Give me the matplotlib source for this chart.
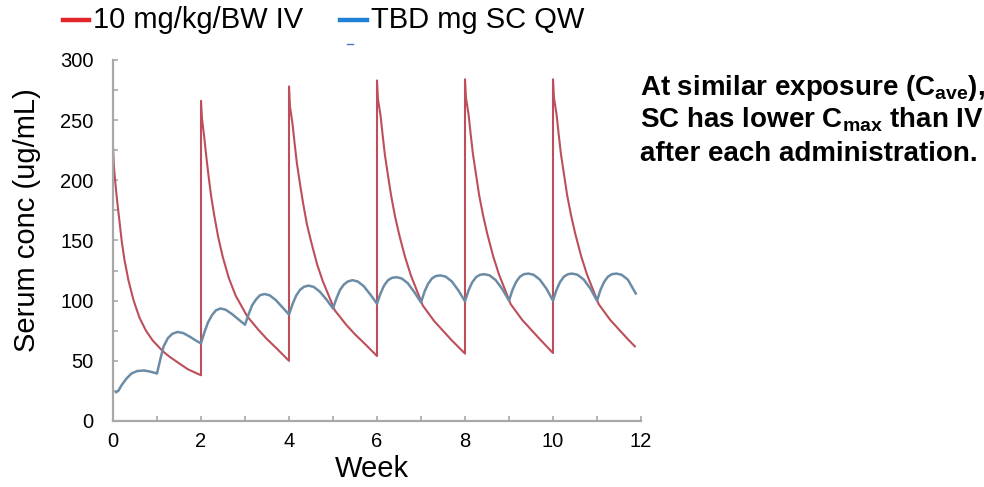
import matplotlib
matplotlib.use("Agg")
import matplotlib.pyplot as plt
from matplotlib.lines import Line2D
from matplotlib.ticker import MultipleLocator

plt.rcParams['font.family'] = ['Liberation Sans', 'DejaVu Sans']
plt.rcParams['mathtext.fontset'] = 'custom'
plt.rcParams['mathtext.rm'] = 'Liberation Sans:bold'
plt.rcParams['mathtext.bf'] = 'Liberation Sans:bold'
plt.rcParams['mathtext.it'] = 'Liberation Sans:bold'

# ---- data ----
series_names = ["10 mg/kg/BW IV", "TBD mg SC QW"]

iv_weeks = [
    0.00, 0.02, 0.05, 0.10, 0.15, 0.20, 0.26, 0.35, 0.47, 0.60, 0.75, 0.90, 1.13, 1.30, 1.50, 1.70, 2.00,
    2.00, 2.02, 2.07, 2.12, 2.17, 2.23, 2.30, 2.39, 2.49, 2.63, 2.79, 3.05, 3.30, 3.50, 3.70, 4.00,
    4.00, 4.02, 4.08, 4.13, 4.18, 4.25, 4.32, 4.41, 4.51, 4.64, 4.77, 5.04, 5.30, 5.50, 5.70, 6.00,
    6.00, 6.02, 6.08, 6.13, 6.18, 6.25, 6.32, 6.41, 6.51, 6.64, 6.77, 7.04, 7.30, 7.50, 7.70, 8.00,
    8.00, 8.02, 8.08, 8.13, 8.18, 8.25, 8.32, 8.41, 8.51, 8.64, 8.77, 9.04, 9.30, 9.50, 9.70, 10.00,
    10.00, 10.02, 10.08, 10.13, 10.18, 10.25, 10.32, 10.41, 10.51, 10.64, 10.77, 11.04, 11.30, 11.50, 11.70, 11.86,
]
iv_conc = [
    228, 212, 199, 181, 165, 149, 134, 117, 100, 86, 75, 67, 58, 53, 48, 43, 38,
    266, 252, 237, 220, 204, 187, 171, 153, 137, 119, 104, 87, 76, 68, 61, 50,
    278, 262, 247, 230, 214, 197, 181, 163, 148, 130, 116, 92, 80, 72, 65, 54,
    283, 268, 254, 237, 221, 204, 187.5, 170, 154, 136, 121, 96, 83, 75, 67, 56,
    284, 269, 255, 238, 222, 205, 188, 171, 155, 137, 122, 97, 84, 76, 68, 56.5,
    284, 269, 255, 238, 222, 205, 188, 171, 155, 137, 122, 97, 84, 76, 68, 62,
]

sc_weeks = [
    0.07, 0.12, 0.20, 0.30, 0.42, 0.55, 0.70, 0.85,
    1.00, 1.08, 1.15, 1.25, 1.35, 1.47, 1.60, 1.75, 1.90,
    2.00, 2.08, 2.16, 2.25, 2.34, 2.44, 2.56, 2.70, 2.85,
    3.00, 3.08, 3.16, 3.25, 3.34, 3.44, 3.56, 3.70, 3.85,
    4.00, 4.08, 4.16, 4.25, 4.34, 4.44, 4.56, 4.70, 4.85,
    5.00, 5.08, 5.16, 5.25, 5.34, 5.44, 5.56, 5.70, 5.85,
    6.00, 6.08, 6.16, 6.25, 6.34, 6.44, 6.56, 6.70, 6.85,
    7.00, 7.08, 7.16, 7.25, 7.34, 7.44, 7.56, 7.70, 7.85,
    8.00, 8.08, 8.16, 8.25, 8.34, 8.44, 8.56, 8.70, 8.85,
    9.00, 9.08, 9.16, 9.25, 9.34, 9.44, 9.56, 9.70, 9.85,
    10.00, 10.08, 10.16, 10.25, 10.34, 10.44, 10.56, 10.70, 10.85,
    11.00, 11.08, 11.16, 11.25, 11.34, 11.44, 11.56, 11.70, 11.88,
]
sc_conc = [
    24, 25, 30, 35, 39.5, 41.5, 42, 41,
    39.5, 52, 62, 69, 72.5, 74, 73, 70, 66.5,
    64.5, 74, 82, 88, 92, 93.5, 92.5, 89, 84.5,
    80, 88.5, 96, 101, 104.5, 105.5, 104.5, 100.5, 94.5,
    88.5, 97, 104, 109, 111.5, 112.5, 111.5, 107.5, 101,
    93.5, 102, 109, 113.5, 116, 117, 116, 112, 105,
    97.5, 106, 112.5, 117, 119, 119.5, 118.5, 114.5, 107,
    98.5, 107.5, 114, 118.5, 120.5, 121, 120, 116, 108.5,
    99.5, 108.5, 115, 119.5, 121.5, 122, 121, 117, 109.5,
    100, 109, 115.5, 120, 122, 122.5, 121.5, 117.5, 110,
    100, 109, 115.5, 120, 122, 122.5, 121.5, 117.5, 110,
    100, 109, 115.5, 120, 122, 122.5, 121.5, 117.5, 106,
]

x_ticks = [0, 2, 4, 6, 8, 10, 12]
y_ticks = [0, 50, 100, 150, 200, 250, 300]

# ---- figure ----
W, H = 984, 487
fig = plt.figure(figsize=(W / 100, H / 100), dpi=100)
x0, x1, y0, y1 = 113, 641, 421, 60
ax = fig.add_axes([x0 / W, 1 - y0 / H, (x1 - x0) / W, (y0 - y1) / H])

iv_color = '#bd4e5a'
sc_color = '#6c8ca6'
ax.plot(iv_weeks, iv_conc, color=iv_color, lw=1.5, solid_joinstyle='round')
ax.plot(sc_weeks, sc_conc, color=sc_color, lw=1.8, solid_joinstyle='round')

ax.set_xlim(0, 12)
ax.set_ylim(0, 300)
ax.set_xticks(x_ticks)
ax.set_yticks(y_ticks)
ax.xaxis.set_minor_locator(MultipleLocator(1))
ax.yaxis.set_minor_locator(MultipleLocator(25))
for s in ['top', 'right']:
    ax.spines[s].set_visible(False)
for s in ['left', 'bottom']:
    ax.spines[s].set_color('#a8a8a8')
    ax.spines[s].set_linewidth(1.6)
ax.tick_params(which='both', direction='in', color='#a8a8a8', width=1.2, length=3.5)
ax.tick_params(axis='y', which='major', pad=14, labelsize=14.5)
ax.tick_params(axis='x', which='major', pad=8, labelsize=14.5)

ax.set_xlabel('Week', fontsize=21)
ax.set_ylabel('Serum conc (ug/mL)', fontsize=21)
ax.xaxis.set_label_coords(0.49, -0.095, transform=ax.transAxes)
ax.yaxis.set_label_coords(-0.136, 0.557, transform=ax.transAxes)

# ---- legend (manual) ----
ly = 1 - 20 / H
fig.add_artist(Line2D([63 / W, 89 / W], [ly, ly], color='#e3242b', lw=3.2, transform=fig.transFigure))
fig.text(93 / W, ly, series_names[0], fontsize=21, va='center', ha='left')
fig.add_artist(Line2D([340 / W, 367 / W], [ly, ly], color='#1f82d6', lw=3.2, transform=fig.transFigure))
fig.text(371 / W, ly, series_names[1], fontsize=21, va='center', ha='left')
fig.add_artist(Line2D([347 / W, 353 / W], [1 - 44 / H, 1 - 44 / H], color='#4a78c8', lw=1.0, transform=fig.transFigure))

# ---- annotation ----
tx = 640 / W
fs = 20
fig.text(tx, 1 - 95 / H, r'At similar exposure (C$_{\mathbf{ave}}$),', fontsize=fs, fontweight='bold', va='baseline')
fig.text(tx, 1 - 128 / H, r'SC has lower C$_{\mathbf{max}}$ than IV', fontsize=fs, fontweight='bold', va='baseline')
fig.text(tx, 1 - 161 / H, 'after each administration.', fontsize=fs, fontweight='bold', va='baseline')

fig.savefig('out.png', dpi=100)
